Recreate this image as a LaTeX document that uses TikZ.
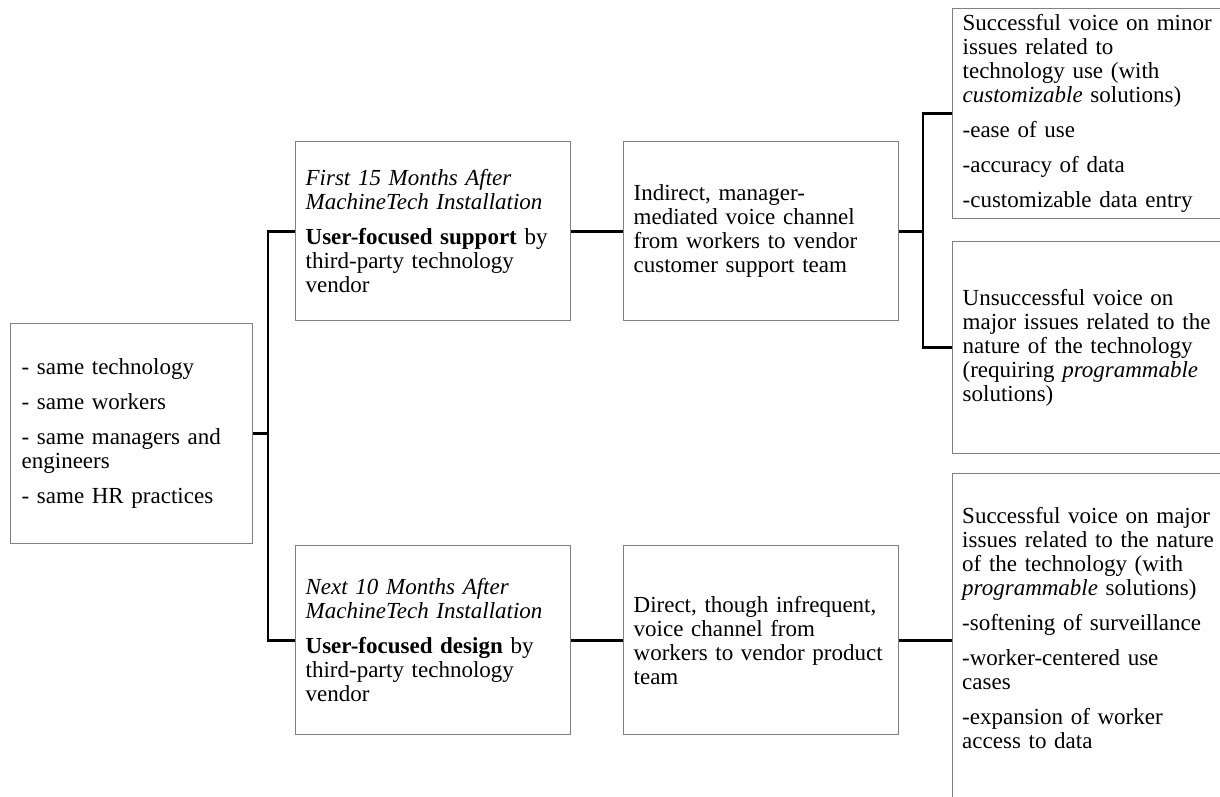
\documentclass[tikz,border=0pt]{standalone}
\usepackage{fontspec}
\setmainfont{Liberation Serif}
\definecolor{boxgray}{RGB}{128,128,128}
\newcommand{\pg}{\\[11pt]}
\begin{document}
\begin{tikzpicture}[x=1pt,y=-1pt,
  box/.style={draw=boxgray, line width=1.3pt, inner xsep=10pt, inner ysep=0pt,
    align=left, anchor=north west, font=\fontsize{23}{24}\selectfont},
  txt/.style={inner xsep=10pt, inner ysep=0pt, align=left, font=\fontsize{23}{24}\selectfont},
  conn/.style={line width=2.8pt, black}]
\useasboundingbox (0,0) rectangle (1220,796);

\node[box, inner xsep=11pt, text width=220pt, minimum height=220pt] (L) at (10,323)
 {- same technology\pg - same workers\pg - same managers and\\ engineers\pg - same HR practices};

\node[box, text width=255pt, minimum height=179pt] (B1) at (295,141)
 {\textit{First 15 Months After}\\ \textit{MachineTech Installation}\pg \textbf{User-focused support} by\\ third-party technology\\ vendor};

\node[box, text width=255pt, minimum height=189pt] (B2) at (295,545)
 {\textit{Next 10 Months After}\\ \textit{MachineTech Installation}\pg \textbf{User-focused design} by\\ third-party technology\\ vendor};

\node[box, text width=255pt, minimum height=179pt] (C1) at (623,141)
 {Indirect, manager-\\ mediated voice channel\\ from workers to vendor\\ customer support team};

\node[box, text width=255pt, minimum height=189pt] (C2) at (623,545)
 {Direct, though infrequent,\\ voice channel from\\ workers to vendor product\\ team};

\node[box, text width=270pt, minimum height=210pt] (R1) at (952,8)
 {Successful voice on minor\\ issues related to\\ technology use (with\\ \textit{customizable} solutions)\pg -ease of use\pg -accuracy of data\pg -customizable data entry};

\node[box, text width=270pt, minimum height=212pt] (R2) at (952,241)
 {Unsuccessful voice on\\ major issues related to the\\ nature of the technology\\ (requiring \textit{programmable}\\ solutions)};

\node[box, text width=270pt, minimum height=360pt] (R3) at (952,473) {};
\node[txt, anchor=west, text width=270pt] (R3t) at (952,628)
 {Successful voice on major\\ issues related to the nature\\ of the technology (with\\ \textit{programmable} solutions)\pg -softening of surveillance\pg -worker-centered use\\ cases\pg -expansion of worker\\ access to data};

% connectors
\coordinate (jl) at (268,433);
\coordinate (jr) at (923,230);
\draw[conn] (L.east) -- (L.east -| jl);
\draw[conn] (B1.west) -| (jl) |- (B2.west);
\draw[conn] (B1.east) -- (C1.west);
\draw[conn] (B2.east) -- (C2.west);
\draw[conn] (C1.east) -- (C1.east -| jr);
\draw[conn] (R1.west) -| (jr) |- (R2.west);
\draw[conn] (C2.east) -- (C2.east -| R3.west);
\end{tikzpicture}
\end{document}
